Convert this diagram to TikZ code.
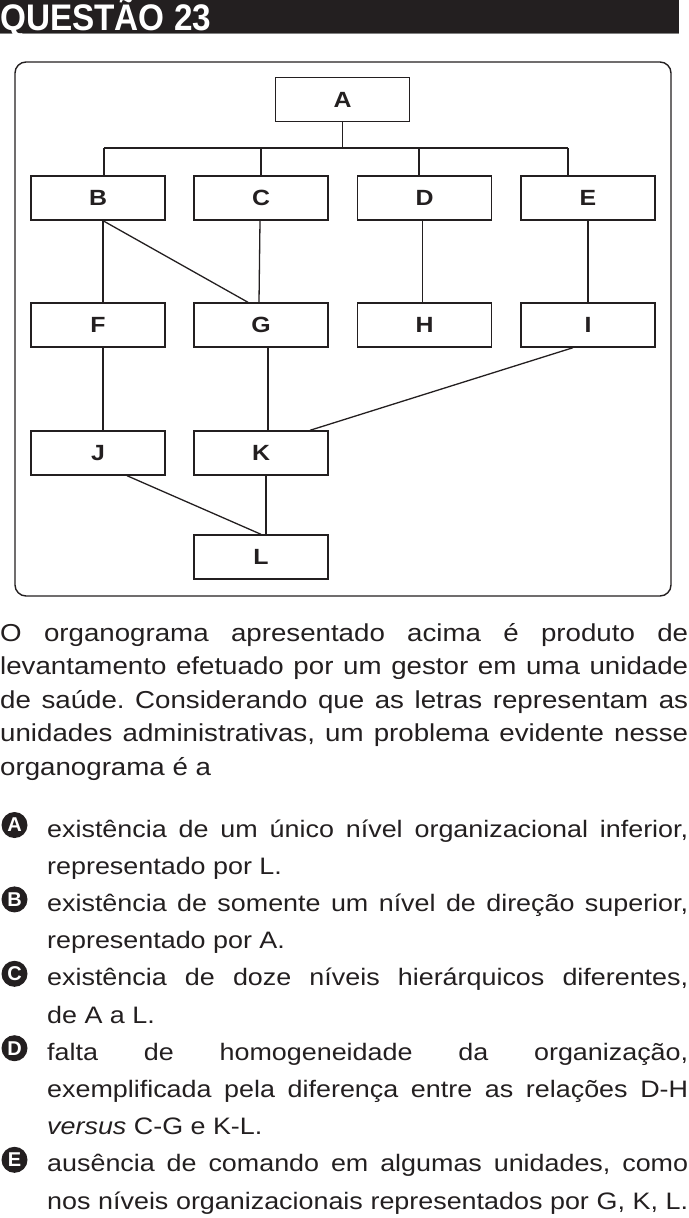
\documentclass[tikz,border=0pt]{standalone}
\usepackage{fontspec}
\setmainfont{Liberation Sans}
\newfontfamily\bodyf[FakeStretch=1.13]{Liberation Sans}
\newfontfamily\headf[FakeStretch=0.9]{Liberation Sans}
\newfontfamily\markf{Liberation Sans}
\definecolor{ink}{HTML}{231F20}
\frenchspacing
\tikzset{
  box/.style={draw=ink, line width=1.4pt, minimum width=134pt, minimum height=44pt, inner sep=0pt,
    font=\bodyf\bfseries\fontsize{22}{22}\selectfont, text=ink},
  link/.style={draw=ink, line width=1.3pt},
  para/.style={anchor=base west, inner sep=0pt, text=ink, font=\bodyf\fontsize{24.5}{30}\selectfont},
  opt/.style={anchor=base west, inner sep=0pt, text=ink, font=\bodyf\fontsize{23.8}{30}\selectfont},
  optmark/.style={circle, fill=ink, minimum size=26pt, inner sep=0pt, text=white,
    font=\markf\bfseries\fontsize{20}{20}\selectfont},
}
\begin{document}
\begin{tikzpicture}[x=1pt,y=-1pt]
\useasboundingbox (0,0) rectangle (688,1218);
% header
\fill[ink] (0,0) rectangle (679,33);
\draw[gray, line width=1.2pt] (0,33.5) -- (679,33.5);
\node[anchor=base west, inner sep=0pt, text=white, font=\headf\bfseries\fontsize{37}{37}\selectfont] (title) at (0,30.5) {QUESTÃO 23};
% frame
\draw[ink, line width=1.4pt, rounded corners=11pt] (15,62) rectangle (671,596);
% boxes
\node[box] (A) at (342.5,99.5) {A};
\node[box] (B) at (98,198) {B};
\node[box] (C) at (261,198) {C};
\node[box] (D) at (424.5,198) {D};
\node[box] (E) at (588,198) {E};
\node[box] (F) at (98,325) {F};
\node[box] (G) at (261,325) {G};
\node[box] (H) at (424.5,325) {H};
\node[box] (I) at (588,325) {I};
\node[box] (J) at (98,453) {J};
\node[box] (K) at (261,453) {K};
\node[box] (L) at (261,557) {L};
% bus
\coordinate (bB) at (104,148);
\coordinate (bC) at (261,148);
\coordinate (bD) at (419,148);
\coordinate (bE) at (568,148);
\draw[link] (bB) -- (bE);
\draw[link] (A.south) -- (A.south |- bB);
\draw[link] (bB) -- (bB |- B.north);
\draw[link] (bC) -- (bC |- C.north);
\draw[link] (bD) -- (bD |- D.north);
\draw[link] (bE) -- (bE |- E.north);
% connectors
\draw[link] ([xshift=5pt]B.south) -- ([xshift=5pt]F.north);
\draw[link] ([xshift=5pt]B.south) -- ([xshift=-13pt]G.north);
\draw[link] ([xshift=-1pt]C.south) -- ([xshift=-2pt]G.north);
\draw[link] ([xshift=-2pt]D.south) -- ([xshift=-2pt]H.north);
\draw[link] (E.south) -- (I.north);
\draw[link] ([xshift=5pt]F.south) -- ([xshift=5pt]J.north);
\draw[link] ([xshift=7pt]G.south) -- ([xshift=7pt]K.north);
\draw[link] ([xshift=-15pt]I.south) -- ([xshift=49pt]K.north);
\draw[link] ([xshift=29pt]J.south) -- (L.north);
\draw[link] ([xshift=5pt]K.south) -- ([xshift=5pt]L.north);
% paragraph
\node[para] (p1) at (0,641) {\makebox[688pt][s]{O organograma apresentado acima é produto de}};
\node[para] (p2) at (0,674.5) {\makebox[688pt][s]{levantamento efetuado por um gestor em uma unidade}};
\node[para] (p3) at (0,708) {\makebox[688pt][s]{de saúde. Considerando que as letras representam as}};
\node[para] (p4) at (0,741.5) {\makebox[688pt][s]{unidades administrativas, um problema evidente nesse}};
\node[para] (p5) at (0,775) {organograma é a};
% options
\node[optmark] (mA) at (14.5,825) {A};
\node[opt] (a1) at (47,837) {\makebox[641pt][s]{existência de um único nível organizacional inferior,}};
\node[opt] (a2) at (47,874.2) {representado por L.};
\node[optmark] (mB) at (14.5,899.4) {B};
\node[opt] (b1) at (47,911.4) {\makebox[641pt][s]{existência de somente um nível de direção superior,}};
\node[opt] (b2) at (47,948.6) {representado por A.};
\node[optmark] (mC) at (14.5,973.8) {C};
\node[opt] (c1) at (47,985.8) {\makebox[641pt][s]{existência de doze níveis hierárquicos diferentes,}};
\node[opt] (c2) at (47,1023) {de A a L.};
\node[optmark] (mD) at (14.5,1048.2) {D};
\node[opt] (d1) at (47,1060.2) {\makebox[641pt][s]{falta de homogeneidade da organização,}};
\node[opt] (d2) at (47,1097.4) {\makebox[641pt][s]{exemplificada pela diferença entre as relações D-H}};
\node[opt] (d3) at (47,1134.6) {\textit{versus} C-G e K-L.};
\node[optmark] (mE) at (14.5,1159.8) {E};
\node[opt] (e1) at (47,1171.8) {\makebox[641pt][s]{ausência de comando em algumas unidades, como}};
\node[opt] (e2) at (47,1209) {\makebox[641pt][s]{nos níveis organizacionais representados por G, K, L.}};
\end{tikzpicture}
\end{document}
